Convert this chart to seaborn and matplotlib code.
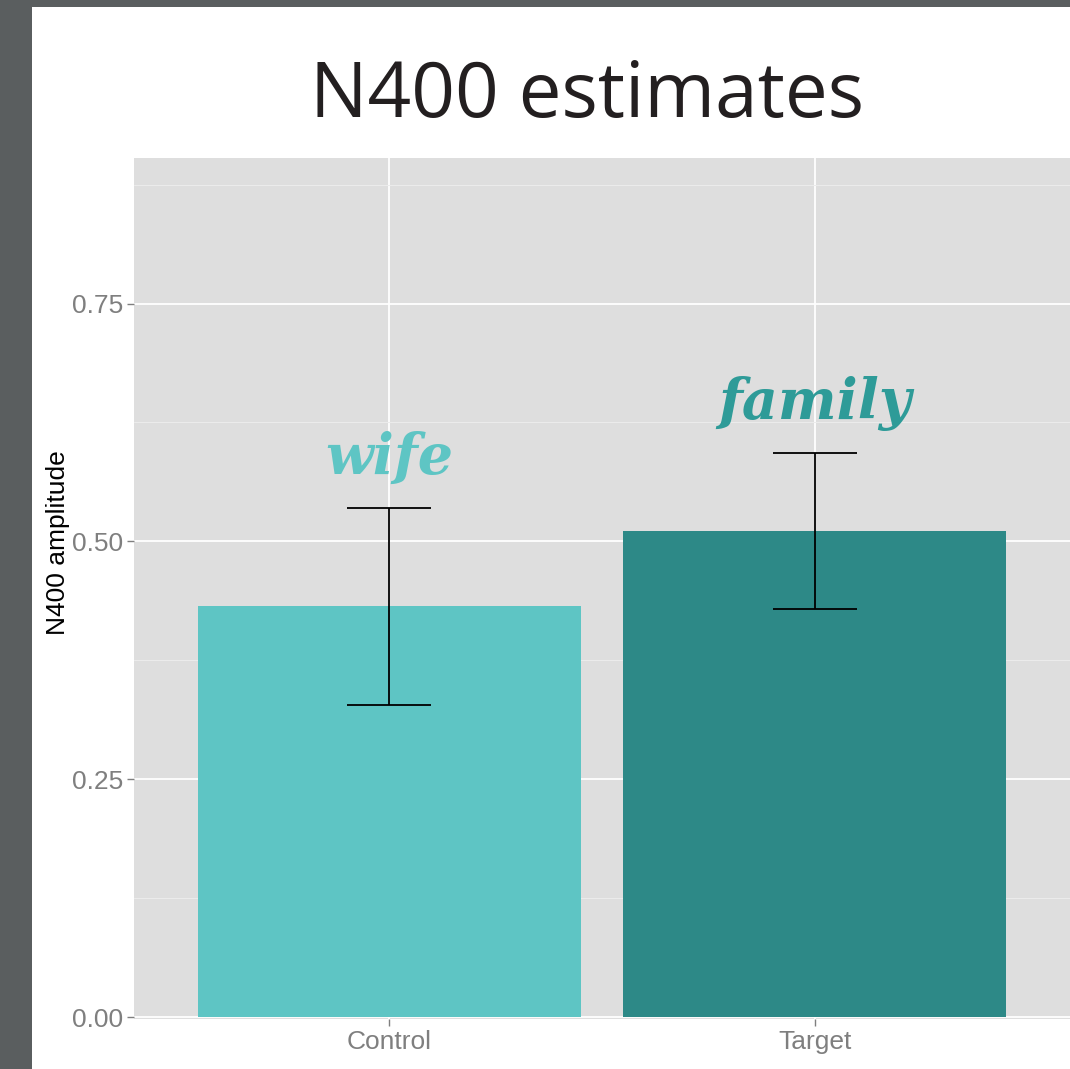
import matplotlib
matplotlib.use("Agg")
import matplotlib.pyplot as plt
import seaborn as sns
import pandas as pd
from matplotlib.patches import Rectangle
from matplotlib.ticker import MultipleLocator

conditions = ["Control", "Target"]
amplitude = [0.432, 0.511]
ci_low = [0.328, 0.429]
ci_high = [0.535, 0.593]
bar_colors = ["#5ec5c4", "#2d8987"]
word_labels = ["wife", "family"]
word_colors = ["#5ec5c4", "#2e9b98"]
word_y = [0.587, 0.645]
yticks = [0.00, 0.25, 0.50, 0.75]
ytick_labels = ["0.00", "0.25", "0.50", "0.75"]

df = pd.DataFrame({"condition": conditions, "amplitude": amplitude})

sns.set_theme(style="white")
plt.rcParams["font.family"] = ["Liberation Sans", "DejaVu Sans"]

fig = plt.figure(figsize=(10.70, 10.69), dpi=100)
fig.patch.set_facecolor("white")
# dark frame on the left and top
fig.patches.append(Rectangle((0, 0), 32 / 1070, 1, transform=fig.transFigure,
                             facecolor="#5a5e5f", edgecolor="none", zorder=0))
fig.patches.append(Rectangle((0, 1 - 7 / 1069), 1, 7 / 1069, transform=fig.transFigure,
                             facecolor="#5a5e5f", edgecolor="none", zorder=0))

ax = fig.add_axes([134 / 1070, (1069 - 1019) / 1069, 1 - 134 / 1070, (1019 - 158) / 1069])
ax.set_facecolor("#dedede")

sns.barplot(data=df, x="condition", y="amplitude", hue="condition",
            palette=bar_colors, width=0.9, errorbar=None, legend=False,
            saturation=1, linewidth=0, ax=ax, zorder=3)

xpos = list(range(len(conditions)))
yerr = [[a - l for a, l in zip(amplitude, ci_low)], [h - a for a, h in zip(amplitude, ci_high)]]
ax.errorbar(xpos, amplitude, yerr=yerr, fmt="none", ecolor="black",
            elinewidth=1.3, capsize=30, capthick=1.3, zorder=4)

for x, w, c, yy in zip(xpos, word_labels, word_colors, word_y):
    ax.text(x, yy, w, color=c, fontsize=40,
            fontstyle="italic", fontweight="bold", family=["DejaVu Serif"],
            ha="center", va="center", zorder=5)

ax.set_xlim(-0.6, 1.6)
ax.set_ylim(-0.002, 0.903)
ax.set_yticks(yticks)
ax.set_yticklabels(ytick_labels)
ax.yaxis.set_minor_locator(MultipleLocator(0.125))
ax.grid(True, which="major", color="white", linewidth=1.3, zorder=0)
ax.grid(True, which="minor", axis="y", color="#ececec", linewidth=0.7, zorder=0)
ax.set_axisbelow(True)
for s in ax.spines.values():
    s.set_visible(False)

ax.tick_params(axis="both", which="major", length=5, width=1, color="#7f7f7f",
               labelcolor="#7f7f7f", labelsize=19, pad=3, left=True, bottom=True)
ax.tick_params(axis="both", which="minor", length=0)
ax.set_xlabel("")
ax.set_ylabel("N400 amplitude", fontsize=19, color="black")
ax.yaxis.set_label_coords(-0.068, 0.553)

fig.text(587 / 1070, 1 - 97 / 1069, "N400 estimates", fontsize=55, color="#231f20",
         ha="center", va="center", family=["Open Sans", "DejaVu Sans"])

fig.savefig("out.png", dpi=100)
